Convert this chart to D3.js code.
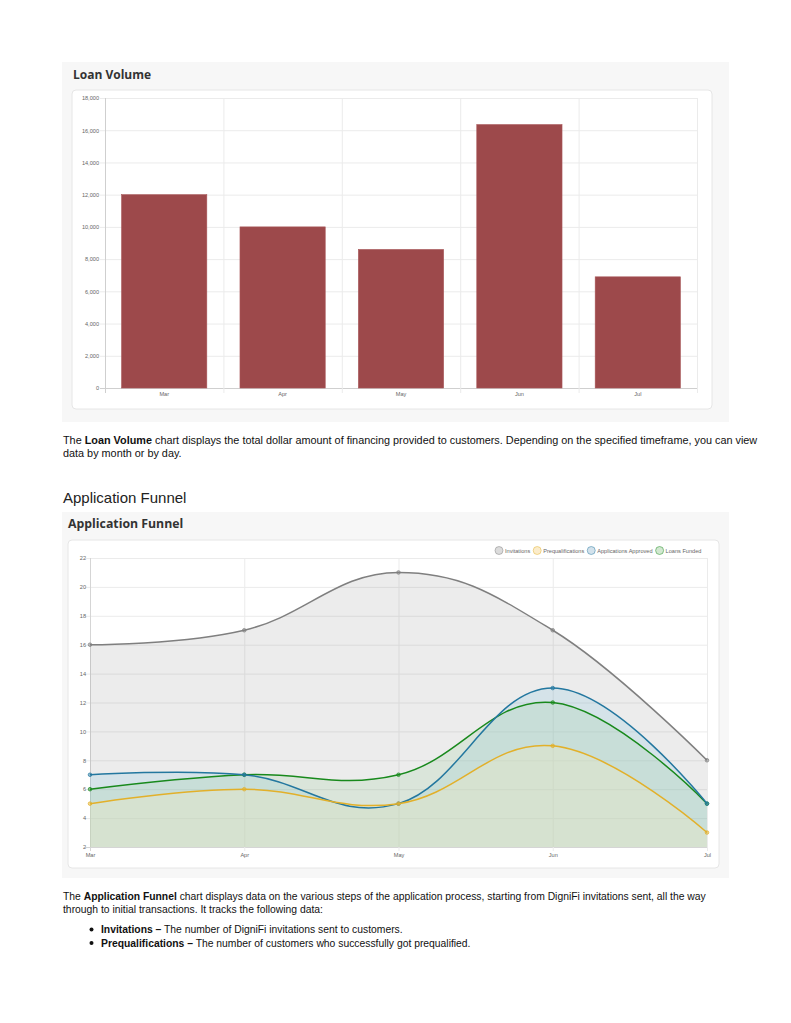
<!DOCTYPE html>
<html>
<head>
<meta charset="utf-8">
<script src="https://cdn.jsdelivr.net/npm/d3@7"></script>
<style>
  body { margin: 0; background: #fff; }
  svg { display: block; }
  .body-text { font-family: "Liberation Sans", Arial, sans-serif; font-size: 10.85px; fill: #111; }
  .body-text.small { font-size: 10.35px; }
  .card-title { font-family: "Open Sans", sans-serif; font-weight: 700; fill: #333; }
  .tick text { font-family: "Liberation Sans", Arial, sans-serif; font-size: 5.6px; fill: #666; }
</style>
</head>
<body>
<script>
// data
let months = ["Mar", "Apr", "May", "Jun", "Jul"]
let loanVolume = [12000, 10000, 8600, 16350, 6900]
let loanTicks = [0, 2000, 4000, 6000, 8000, 10000, 12000, 14000, 16000, 18000]

let invitations = [16, 17, 21, 17, 8]
let prequalifications = [5, 6, 5, 9, 3]
let approved = [7, 7, 5, 13, 5]
let funded = [6, 7, 7, 12, 5]
let funnelTicks = [2, 4, 6, 8, 10, 12, 14, 16, 18, 20, 22]
let seriesNames = ["Invitations", "Prequalifications", "Applications Approved", "Loans Funded"]

let width = 791
let height = 1023

let svg = d3.select("body").append("svg")
    .attr("width", width)
    .attr("height", height)

function panel(x, y, w, h, ix, iy, iw, ih, title, tx, ty, size) {
    svg.append("rect").attr("x", x).attr("y", y).attr("width", w).attr("height", h)
        .attr("fill", "#f7f7f7")
    svg.append("rect").attr("x", ix).attr("y", iy).attr("width", iw).attr("height", ih)
        .attr("rx", 4).attr("fill", "#fff").attr("stroke", "#e6e6e6")
    svg.append("text").attr("class", "card-title").attr("x", tx).attr("y", ty)
        .style("font-size", size + "px").text(title)
}

function para(x, y, parts, cls) {
    let t = svg.append("text").attr("class", "body-text " + (cls || "")).attr("x", x).attr("y", y)
    parts.forEach(p => {
        t.append("tspan").style("font-weight", p[1] ? "bold" : "normal").text(p[0])
    })
}

// ---------- Loan Volume ----------
panel(62, 62, 667, 360, 72, 90, 640, 319, "Loan Volume", 73, 78.5, 12)

let lx = d3.scaleBand().domain(months).range([105, 697]).paddingInner(0.28).paddingOuter(0.14)
let lxGrid = d3.scaleBand().domain(months).range([105, 697])
let ly = d3.scaleLinear().domain([0, 18000]).range([388, 98])

let lg = svg.append("g")
// horizontal grid
lg.selectAll(".hg").data(loanTicks).enter().append("line")
    .attr("x1", 100).attr("x2", 697)
    .attr("y1", d => ly(d) + 0.5).attr("y2", d => ly(d) + 0.5)
    .attr("stroke", d => d == 0 ? "#cfcfcf" : "#ebebeb")
// vertical grid at category edges
lg.selectAll(".vg").data(months.concat(["end"])).enter().append("line")
    .attr("x1", (d, i) => i < 5 ? lxGrid(d) + 0.5 : 697.5)
    .attr("x2", (d, i) => i < 5 ? lxGrid(d) + 0.5 : 697.5)
    .attr("y1", 98).attr("y2", 393)
    .attr("stroke", (d, i) => i == 0 ? "#cfcfcf" : "#ebebeb")

lg.selectAll(".bar").data(loanVolume).enter().append("rect")
    .attr("x", (d, i) => lx(months[i]))
    .attr("y", d => ly(d))
    .attr("width", lx.bandwidth())
    .attr("height", d => ly(0) - ly(d))
    .attr("fill", "#9d494b")
    .attr("stroke", "#a85658")
    .attr("stroke-width", 0.6)

svg.append("g").attr("transform", "translate(99,0)")
    .call(d3.axisLeft(ly).tickValues(loanTicks).tickFormat(d3.format(",")).tickSize(0).tickPadding(0))
    .call(g => g.select(".domain").remove())
svg.append("g").attr("transform", "translate(0,392)")
    .call(d3.axisBottom(lxGrid).tickSize(0).tickPadding(0))
    .call(g => g.select(".domain").remove())
    .selectAll("text").attr("dy", "0.71em")

para(63, 444, [["The ", false], ["Loan Volume", true], [" chart displays the total dollar amount of financing provided to customers. Depending on the specified timeframe, you can view", false]])
para(63, 457, [["data by month or by day.", false]])

svg.append("text").attr("x", 63).attr("y", 503)
    .style("font-family", "Liberation Sans, Arial, sans-serif").style("font-size", "15px").style("fill", "#222")
    .text("Application Funnel")

// ---------- Application Funnel ----------
panel(62, 512, 667, 366, 68, 540, 651, 328, "Application Funnel", 68, 527.5, 12.3)

let fx = d3.scalePoint().domain(months).range([90, 707])
let fy = d3.scaleLinear().domain([2, 22]).range([847, 558])

let fg = svg.append("g")
fg.selectAll(".hg").data(funnelTicks).enter().append("line")
    .attr("x1", 85).attr("x2", 707)
    .attr("y1", d => fy(d) + 0.5).attr("y2", d => fy(d) + 0.5)
    .attr("stroke", d => d == 2 ? "#d5d5d5" : "#ebebeb")
fg.selectAll(".vg").data(months).enter().append("line")
    .attr("x1", d => fx(d) + 0.5).attr("x2", d => fx(d) + 0.5)
    .attr("y1", 558).attr("y2", 851)
    .attr("stroke", (d, i) => i == 0 ? "#d5d5d5" : "#ebebeb")

svg.append("g").attr("transform", "translate(86,0)")
    .call(d3.axisLeft(fy).tickValues(funnelTicks).tickSize(0).tickPadding(0))
    .call(g => g.select(".domain").remove())
svg.append("g").attr("transform", "translate(0,853)")
    .call(d3.axisBottom(fx).tickSize(0).tickPadding(0))
    .call(g => g.select(".domain").remove())
    .selectAll("text").attr("dy", "0.71em")

let series = [
    { name: seriesNames[0], values: invitations, line: "#7f7f7f", fill: "rgba(128,128,128,0.15)", legend: "#dcdcdc" },
    { name: seriesNames[1], values: prequalifications, line: "#e2b02a", fill: "rgba(250,235,190,0.3)", legend: "#fbeccb" },
    { name: seriesNames[2], values: approved, line: "#23779f", fill: "rgba(126,196,226,0.2)", legend: "#d3e2ec" },
    { name: seriesNames[3], values: funded, line: "#18891c", fill: "rgba(150,205,150,0.2)", legend: "#d2e8d1" }
]

let curve = d3.curveCardinal.tension(-0.2)
let area = d3.area()
    .x((d, i) => fx(months[i]))
    .y0(fy(2))
    .y1(d => fy(d))
    .curve(curve)
let line = d3.line()
    .x((d, i) => fx(months[i]))
    .y(d => fy(d))
    .curve(curve)

// fills: gray, blue, green, then yellow on top
let fillOrder = [0, 2, 3, 1]
fillOrder.forEach(k => {
    fg.append("path").attr("d", area(series[k].values)).attr("fill", series[k].fill)
})
series.slice().reverse().forEach(s => {
    fg.append("path").attr("d", line(s.values))
        .attr("fill", "none").attr("stroke", s.line).attr("stroke-width", 1.5)
    fg.selectAll(null).data(s.values).enter().append("circle")
        .attr("cx", (d, i) => fx(months[i]))
        .attr("cy", d => fy(d))
        .attr("r", 1.8)
        .attr("fill", s.line)
        .attr("fill-opacity", 0.5)
        .attr("stroke", s.line)
        .attr("stroke-width", 0.7)
})

// legend
let legend = svg.append("g")
let lxPos = 494.5
series.forEach(s => {
    legend.append("circle").attr("cx", lxPos + 4.5).attr("cy", 550.5).attr("r", 4)
        .attr("fill", s.legend).attr("stroke", s.line).attr("stroke-opacity", 0.6).attr("stroke-width", 0.8)
    let t = legend.append("text").attr("x", lxPos + 10.5).attr("y", 552.5)
        .style("font-family", "Liberation Sans, Arial, sans-serif").style("font-size", "5.6px").style("fill", "#666")
        .text(s.name)
    lxPos += 10.5 + t.node().getComputedTextLength() + 2.5
})

para(63, 900, [["The ", false], ["Application Funnel", true], [" chart displays data on the various steps of the application process, starting from DigniFi invitations sent, all the way", false]], "small")
para(63, 913, [["through to initial transactions. It tracks the following data:", false]], "small")

let bullets = [
    ["Invitations \u2013", " The number of DigniFi invitations sent to customers."],
    ["Prequalifications \u2013", " The number of customers who successfully got prequalified."]
]
bullets.forEach((b, i) => {
    svg.append("circle").attr("cx", 91.5).attr("cy", 929.5 + i * 13.5).attr("r", 2).attr("fill", "#111")
    para(101, 933 + i * 13.5, [[b[0], true], [b[1], false]], "small")
})
</script>
</body>
</html>
